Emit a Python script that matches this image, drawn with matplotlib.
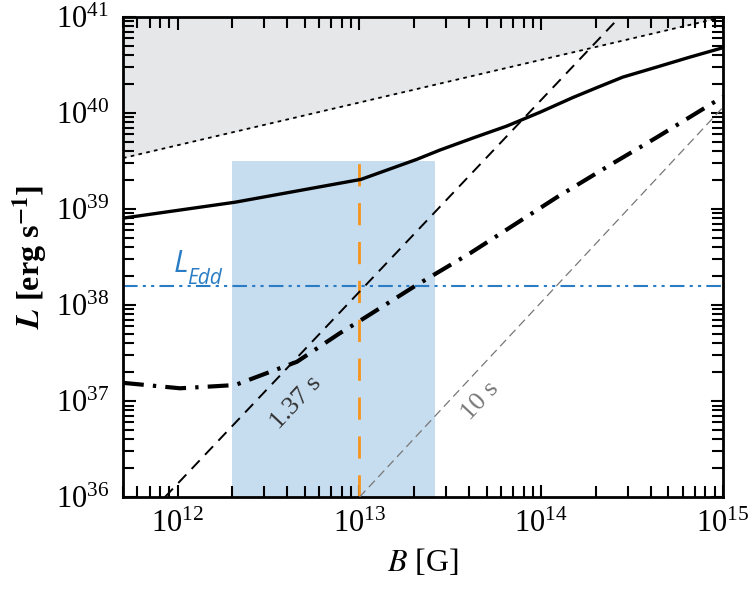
import numpy as np
import matplotlib
matplotlib.use("Agg")
import matplotlib.pyplot as plt
from matplotlib.ticker import LogLocator, NullFormatter

# ---- data ----
solid_B = [5e11, 2.07e12, 1.02e13, 2.07e13, 2.77e13, 4.21e13, 6.47e13, 9.84e13,
           1.49e14, 2.02e14, 2.81e14, 4.33e14, 6.58e14, 1e15]
solid_L = [8.05e38, 1.18e39, 2.04e39, 3.3e39, 4.12e39, 5.5e39, 7.33e39, 1.02e40,
           1.45e40, 1.84e40, 2.37e40, 3.02e40, 3.83e40, 4.8e40]

dd_B = [5e11, 1.03e12, 2.07e12, 4.53e12, 7.8e12, 1.02e13, 2.02e13, 4.06e13, 1.22e14, 2.48e14, 4.33e14, 1e15]
dd_L = [1.55e37, 1.36e37, 1.47e37, 2.57e37, 5.1e37, 6.98e37, 1.58e38, 3.47e38, 1.33e39, 3.0e39, 5.6e39, 1.48e40]

dotted_B = [5e11, 1e15]
dotted_L = [3.4e39, 1.0e41]

p137_B = [8.5e11, 2.7e14]
p137_L = [1e36, 1e41]
p10_B = [1e13, 1e15]
p10_L = [1e36, 1.15e40]

L_edd = 1.6e38
box_B = [2.0e12, 2.6e13]
box_Ltop = 3.2e39
B_orange = 1e13

xlim = (5e11, 1e15)
ylim = (1e36, 1e41)

# ---- figure ----
plt.rcParams['mathtext.fontset'] = 'stix'
plt.rcParams['font.family'] = ['Liberation Serif', 'DejaVu Serif']

fig = plt.figure(figsize=(7.5, 5.89), dpi=100)
ax = fig.add_axes([0.164, 0.156, 0.8, 0.815])
ax.set_xscale('log')
ax.set_yscale('log')
ax.set_xlim(*xlim)
ax.set_ylim(*ylim)

# grey region above dotted line
ax.fill_between(dotted_B, dotted_L, [ylim[1]] * 2, color='#e6e7e8', lw=0, zorder=0)
ax.plot(dotted_B, dotted_L, color='black', lw=1.3, ls=(0, (2, 2.4)), zorder=3)

# blue box
ax.fill_between(box_B, [ylim[0]] * 2, [box_Ltop] * 2, color='#c6dcef', lw=0, zorder=1)
# orange dashed vertical
ax.plot([B_orange, B_orange], [ylim[0], box_Ltop], color='#f7941d', lw=2.0,
        dashes=(8, 6), zorder=2)

# L_Edd
ax.axhline(L_edd, color='#2a7dc4', lw=1.5, dashes=(7, 2.5, 1.5, 2.5, 1.5, 2.5), zorder=2)
ax.text(9.5e11, 2.2e38, 'L', color='#2a7dc4', fontsize=22, style='italic',
        family=['Open Sans', 'DejaVu Sans'], ha='left', va='baseline')
ax.text(1.13e12, 1.66e38, 'Edd', color='#2a7dc4', fontsize=15, style='italic',
        family=['Open Sans', 'DejaVu Sans'], ha='left', va='baseline')

# period lines
ax.plot(p137_B, p137_L, color='black', lw=1.4, dashes=(6, 4), zorder=3)
ax.plot(p10_B, p10_L, color='#777777', lw=0.9, dashes=(7, 4), zorder=3)
ax.text(4.5e12, 9.5e36, '1.37 s', color='#333333', fontsize=19, rotation=47,
        family=['Liberation Serif', 'DejaVu Serif'],
        ha='center', va='center', zorder=4)
ax.text(4.6e13, 1.0e37, '10 s', color='#777777', fontsize=19, rotation=47,
        family=['Liberation Serif', 'DejaVu Serif'],
        ha='center', va='center', zorder=4)

# curves
ax.plot(solid_B, solid_L, color='black', lw=2.4, zorder=4, solid_capstyle='butt')
ax.plot(dd_B, dd_L, color='black', lw=3.0, dashes=(5, 2.2, 0.8, 2.2), zorder=4)

# ticks
ax.xaxis.set_major_locator(LogLocator(base=10, numticks=10))
ax.xaxis.set_minor_locator(LogLocator(base=10, subs=np.arange(2, 10), numticks=20))
ax.yaxis.set_major_locator(LogLocator(base=10, numticks=10))
ax.yaxis.set_minor_locator(LogLocator(base=10, subs=np.arange(2, 10), numticks=20))
ax.xaxis.set_minor_formatter(NullFormatter())
ax.yaxis.set_minor_formatter(NullFormatter())
ax.tick_params(which='both', direction='in', top=True, right=True, width=1.5)
ax.tick_params(which='major', length=9, labelsize=22)
ax.tick_params(which='minor', length=8)
ax.tick_params(axis='y', which='major', pad=10)
ax.tick_params(axis='x', which='major', pad=9)
for s in ax.spines.values():
    s.set_linewidth(2.0)

ax.set_xlabel(r'$\it{B}$ [G]', fontsize=23, labelpad=6)
ax.set_ylabel(r'$\boldsymbol{L}$ [erg s$^{\mathbf{-1}}$]', fontsize=23, fontweight='bold', labelpad=4)

fig.savefig('out.png', dpi=100)
